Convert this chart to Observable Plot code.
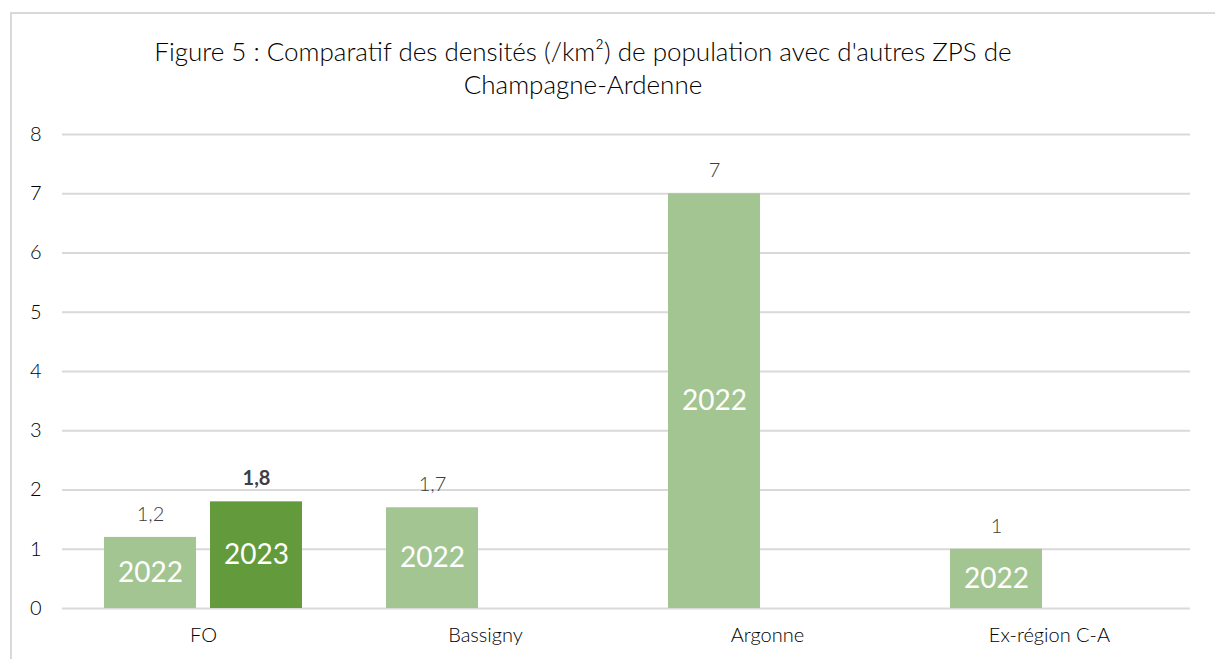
<!DOCTYPE html>
<html><head><meta charset="utf-8">
<script src="https://cdn.jsdelivr.net/npm/d3@7"></script>
<script src="https://cdn.jsdelivr.net/npm/@observablehq/plot@0.6"></script>
<style>
body{margin:0;background:#fff;overflow:hidden;width:1215px;height:659px;position:relative}
#frame{position:absolute;left:10px;top:12px;width:1300px;height:800px;border-left:2px solid #d9d9d9;border-top:2px solid #d9d9d9;box-sizing:border-box}
#title{position:absolute;left:0;top:35px;width:1166px;text-align:center;font-family:Lato,sans-serif;font-weight:300;font-size:26px;line-height:33px;color:#000}
#chart{position:absolute;left:0;top:100px}
#chart svg text{font-weight:300}
#chart svg .inside text{font-weight:400}
#chart svg .bold text{font-weight:bold}
</style></head>
<body>
<div id="frame"></div>
<div id="title">Figure 5 : Comparatif des densités (/km²) de population avec d'autres ZPS de<br>Champagne-Ardenne</div>
<div id="chart"></div>
<script>
const categories = ["FO", "Bassigny", "Argonne", "Ex-région C-A"];
const years = ["2022", "2023"];
const barCategory = ["FO", "FO", "Bassigny", "Argonne", "Ex-région C-A"];
const barYear = ["2022", "2023", "2022", "2022", "2022"];
const barValue = [1.2, 1.8, 1.7, 7, 1];
const yTicks = [0, 1, 2, 3, 4, 5, 6, 7, 8];
const yearColors = ["#a3c591", "#629a3c"];

const rows = barValue.map((v, i) => ({category: barCategory[i], year: barYear[i], value: v}));
const fmt = v => String(v).replace(".", ",");

const chart = Plot.plot({
  width: 1215, height: 559,
  marginLeft: 62, marginRight: 25, marginTop: 34, marginBottom: 51,
  style: {fontFamily: "Lato, sans-serif", fontSize: "20px", color: "#000", background: "transparent"},
  fx: {domain: categories, padding: 0, axis: "bottom", label: null, tickSize: 0, tickPadding: 19},
  x: {domain: years, paddingInner: 0.132, paddingOuter: 0.396, axis: null},
  y: {domain: [0, 8], ticks: yTicks, tickSize: 0, tickPadding: 21, label: null, tickFormat: d => d},
  color: {domain: years, range: yearColors},
  marks: [
    Plot.ruleY(yTicks, {stroke: "#d9d9d9", strokeWidth: 2}),
    Plot.barY(rows, {fx: "category", x: "year", y: "value", fill: "year"}),
    Plot.text(rows, {fx: "category", x: "year", y: d => d.value / 2, text: "year", fill: "white", fontSize: 28, className: "inside"}),
    Plot.text(rows.filter(d => d.year === "2022"), {fx: "category", x: "year", y: "value", dy: -23, text: d => fmt(d.value), fill: "#404040", fontSize: 20}),
    Plot.text(rows.filter(d => d.year === "2023"), {fx: "category", x: "year", y: "value", dy: -23, text: d => fmt(d.value), fill: "#404040", fontSize: 20, className: "bold"})
  ]
});
document.getElementById("chart").appendChild(chart);
</script>
</body></html>
